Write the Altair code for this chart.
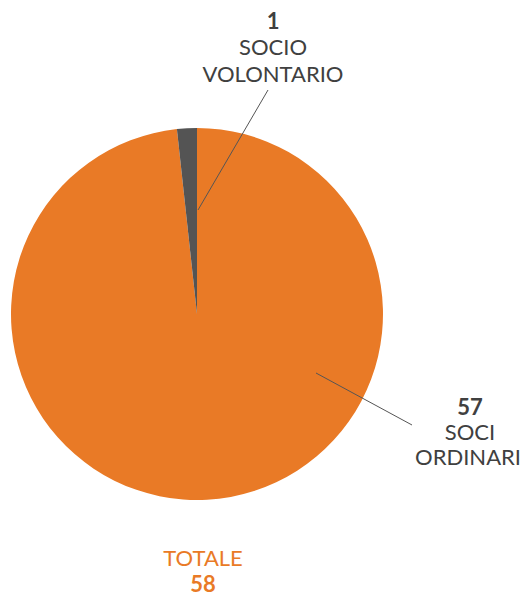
import altair as alt
import pandas as pd

categories = ["SOCI ORDINARI", "SOCIO VOLONTARIO"]
values = [57, 1]
colors = ["#E97A26", "#545454"]
total_label = "TOTALE"

df = pd.DataFrame({"cat": categories, "val": values, "ord": list(range(len(values)))})

FONT = "Lato"
TXT = "#404040"
ORANGE = "#E97A26"

pie = alt.Chart(df).mark_arc(radius=186, stroke=None).encode(
    theta=alt.Theta("val:Q", stack=True),
    order=alt.Order("ord:Q"),
    color=alt.Color("cat:N", scale=alt.Scale(domain=categories, range=colors), legend=None),
    x=alt.value(189),
    y=alt.value(306),
)

base = alt.Chart(df)

def leader(idx, x, y, x2, y2):
    return base.transform_filter(alt.datum.ord == idx).mark_rule(color="#555555", strokeWidth=1).encode(
        x=alt.value(x), y=alt.value(y), x2=alt.value(x2), y2=alt.value(y2))

def label(idx, x, y, lines_expr, bold=False, size=22, color=TXT):
    return base.transform_filter(alt.datum.ord == idx).transform_calculate(t=lines_expr).mark_text(
        font=FONT, fontSize=size, fontWeight="bold" if bold else "normal", color=color,
        align="center", baseline="middle").encode(
        text="t:N", x=alt.value(x), y=alt.value(y))

layers = [
    pie,
    leader(1, 190, 202, 260, 82),
    leader(0, 308, 365, 404, 417),
    label(1, 265, 14, "format(datum.val, 'd')", bold=True),
    label(1, 265, 40, "split(datum.cat, ' ')[0]"),
    label(1, 265, 67, "split(datum.cat, ' ')[1]"),
    label(0, 462, 400, "format(datum.val, 'd')", bold=True),
    label(0, 462, 425, "split(datum.cat, ' ')[0]"),
    label(0, 460, 450, "split(datum.cat, ' ')[1]"),
]

tot = pd.DataFrame({"v": [sum(values)], "t": [total_label]})
tbase = alt.Chart(tot)
layers.append(tbase.mark_text(font=FONT, fontSize=22, color=ORANGE, align="center", baseline="middle").encode(
    text="t:N", x=alt.value(195), y=alt.value(551)))
layers.append(tbase.mark_text(font=FONT, fontSize=22, fontWeight="bold", color=ORANGE, align="center", baseline="middle").encode(
    text="v:Q", x=alt.value(195), y=alt.value(577)))

chart = alt.layer(*layers).properties(
    width=515, height=590, autosize="none", padding=0
).configure_view(stroke=None)

chart.save("out.html", embed_options={"renderer": "svg", "actions": False})
